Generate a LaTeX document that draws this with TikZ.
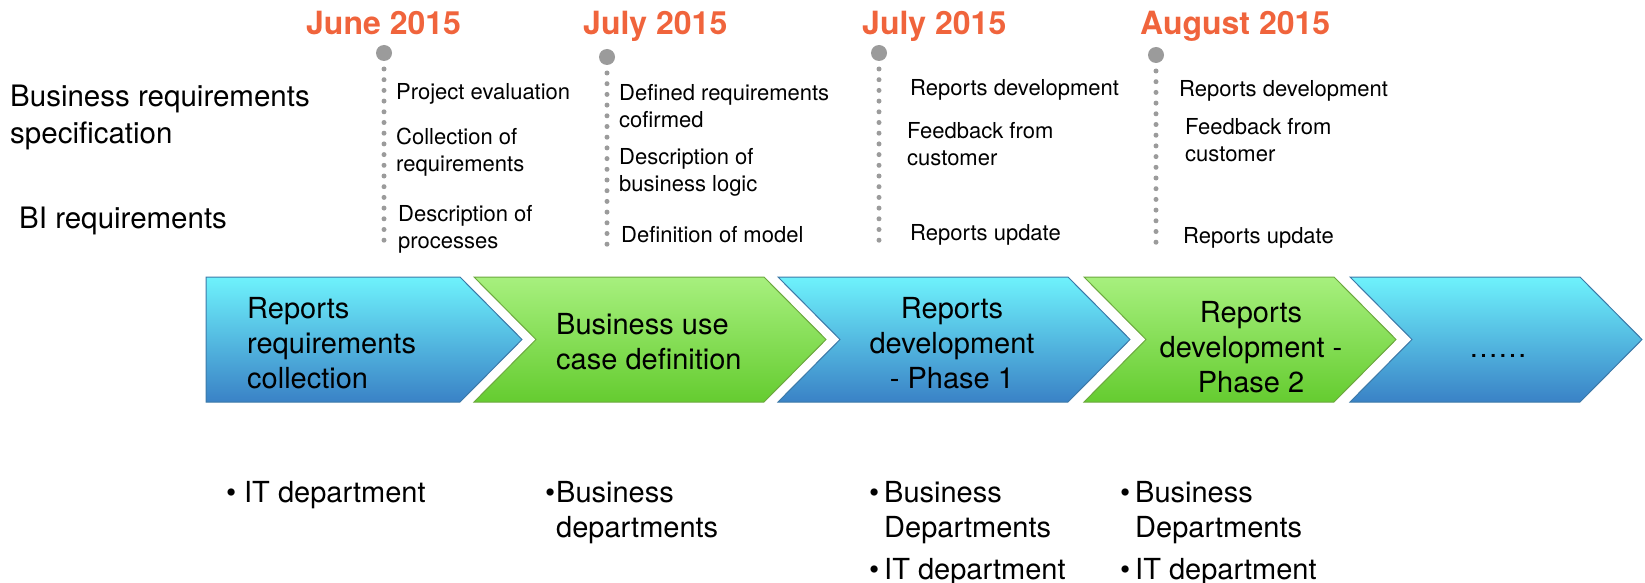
\documentclass[tikz,border=0pt]{standalone}
\usepackage{fontspec}
\setmainfont{TeX Gyre Heros}
\usetikzlibrary{positioning}
\definecolor{datecol}{HTML}{F0643C}
\definecolor{dotgray}{HTML}{9B9B9B}
\definecolor{bluetop}{HTML}{6EF2FC}
\definecolor{bluebot}{HTML}{3A82C6}
\definecolor{blueline}{HTML}{3C79A8}
\definecolor{greentop}{HTML}{A7F07E}
\definecolor{greenbot}{HTML}{65CC30}
\definecolor{greenline}{HTML}{6CA83E}
\newcommand{\bul}[1]{\makebox[#1][l]{\textbullet}}
\tikzset{
  datelbl/.style={text=datecol,font=\fontsize{32}{38}\selectfont\bfseries,anchor=base west,inner sep=0pt},
  item/.style={font=\fontsize{22}{27}\selectfont,align=left,anchor=north west,inner sep=0pt},
  rowlbl/.style={font=\fontsize{29.5}{37}\selectfont,align=left,anchor=north west,inner sep=0pt},
  chevtxt/.style={font=\fontsize{29}{35}\selectfont,inner sep=0pt},
  who/.style={font=\fontsize{29}{35}\selectfont,align=left,anchor=north west,inner sep=0pt},
  bluechev/.style={draw=blueline,top color=bluetop,bottom color=bluebot},
  greenchev/.style={draw=greenline,top color=greentop,bottom color=greenbot}
}

\begin{document}
\begin{tikzpicture}[x=1pt,y=-1pt]
\useasboundingbox (0,0) rectangle (1645,583);

\foreach \l/\r/\n/\s in {206/460/0/bluechev,474/764/62/greenchev,
    778/1068/62/bluechev,1084/1334/62/greenchev,1350/1580/62/bluechev}
  \path[\s,line width=1pt]
    (\l,277) -- (\r,277) -- (\r+62,339.5) -- (\r,402) --
    (\l,402) -- (\l+\n,339.5) -- cycle;

\path
  (384,53) coordinate (d1)
  (607,57) coordinate (d2)
  (879,53) coordinate (d3)
  (1156,55) coordinate (d4);

\foreach \point in {d1,d2,d3,d4} {
  \fill[dotgray] (\point) circle(8pt);
  \draw[dotgray,line width=5pt,line cap=round,dash pattern=on 0pt off 10.7pt]
    ([yshift=-16pt]\point) -- (\point |- 0,249);
}

\node[datelbl] (jun) at (306,35) {June 2015};
\node[datelbl] (jul1) at (583,35) {July 2015};
\node[datelbl] (jul2) at (862,35) {July 2015};
\node[datelbl] (aug) at (1140,35) {August 2015};

\node[rowlbl] (brs) at (10,85) {Business requirements\\specification};
\node[rowlbl] (bir) at (19,207) {BI requirements};

\node[item] (a1) at (396,83) {Project evaluation};
\node[item] (a2) at (396,128) {Collection of\\requirements};
\node[item] (a3) at (398,205) {Description of\\processes};

\node[item] (b1) at (619,84) {Defined requirements\\cofirmed};
\node[item] (b2) at (619,148) {Description of\\business logic};
\node[item] (b3) at (621,226) {Definition of model};

\node[item] (e1) at (910,79) {Reports development};
\node[item] (e2) at (907,122) {Feedback from\\customer};
\node[item] (e3) at (910,224) {Reports update};

\node[item] (f1) at (1179,80) {Reports development};
\node[item] (f2) at (1185,118) {Feedback from\\customer};
\node[item] (f3) at (1183,227) {Reports update};

\node[chevtxt,align=left,anchor=north west] (c1) at (247,297)
  {Reports\\requirements\\collection};
\node[chevtxt,align=left,anchor=north west] (c2) at (556,313)
  {Business use\\case definition};
\node[chevtxt,align=center,anchor=north] (c3) at (952,297)
  {Reports\\development\\- Phase 1};
\node[chevtxt,align=center,anchor=north] (c4) at (1251,301)
  {Reports\\development -\\Phase 2};
\node[chevtxt,anchor=base] (c5) at (1498,357) {……};

\node[who] (w1) at (226,481) {\bul{18pt}IT department};
\node[who] (w2) at (545,481) {\bul{11pt}Business\\\hspace*{11pt}departments};
\node[who] (w3) at (869,481)
  {\bul{15pt}Business\\\hspace*{15pt}Departments\\[7pt]\bul{15pt}IT department};
\node[who] (w4) at (1120,481)
  {\bul{15pt}Business\\\hspace*{15pt}Departments\\[7pt]\bul{15pt}IT department};
\end{tikzpicture}
\end{document}
